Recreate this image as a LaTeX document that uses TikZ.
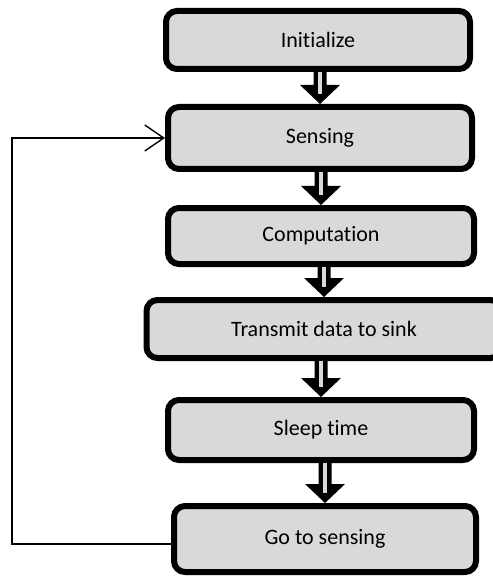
\documentclass[tikz,border=0pt]{standalone}
\usepackage{fontspec}
\setmainfont[Ligatures=NoCommon]{Carlito}
\usetikzlibrary{calc,arrows.meta}
\definecolor{boxgray}{HTML}{D9D9D9}
\tikzset{
  stagebox/.style={draw=black, fill=boxgray, line width=6pt, rounded corners=11pt,
    minimum width=304pt, minimum height=58pt, inner sep=0pt,
    font=\fontsize{22}{26}\selectfont},
  blockarrow/.style={fill=black,
    to path={let \p1=(\tikztostart), \p2=(\tikztotarget) in
      (\x2-6.5pt,\y1) -- (\x2-6.5pt,\y2+19pt) -- (\x2-20pt,\y2+19pt) -- (\x2,\y2)
      -- (\x2+20pt,\y2+19pt) -- (\x2+6.5pt,\y2+19pt) -- (\x2+6.5pt,\y1) -- cycle}},
  arrowcore/.style={draw=boxgray, line width=3.5pt,
    to path={let \p1=(\tikztostart), \p2=(\tikztotarget) in
      (\x2,\y1) -- (\x2,\y2+10pt)}},
  loopline/.style={draw=black, line width=1.4pt,
    -{Straight Barb[length=19pt,width=26pt,line width=1.4pt]}}
}
\begin{document}
\begin{tikzpicture}[x=1pt,y=-1pt]
\useasboundingbox (0,0) rectangle (492,577);
\node[stagebox] (init) at (318,40) {Initialize};
\node[stagebox, minimum height=62pt] (sens) at (320,138) {Sensing};
\node[stagebox, minimum width=306pt, minimum height=56pt] (comp) at (321,236) {Computation};
\node[stagebox, minimum width=355pt] (trans) at (324,329) {Transmit data to sink};
\node[stagebox, minimum width=306pt, minimum height=60pt] (sleep) at (321,430) {Sleep time};
\node[stagebox, minimum width=302pt, minimum height=66pt] (go) at (325,539) {Go to sensing};
%hollow arrows between stages
\foreach \a/\b in {init/sens, sens/comp, comp/trans, trans/sleep, sleep/go}{
  \path[blockarrow] (\a.south) to (\b.north);
  \path[arrowcore] (\a.south) to (\b.north);
}
%loop back to sensing
\coordinate (corner) at (12,0);
\draw[loopline] ([yshift=-5pt]go.west) -| (corner |- sens.west) -- (sens.west);
\end{tikzpicture}
\end{document}
